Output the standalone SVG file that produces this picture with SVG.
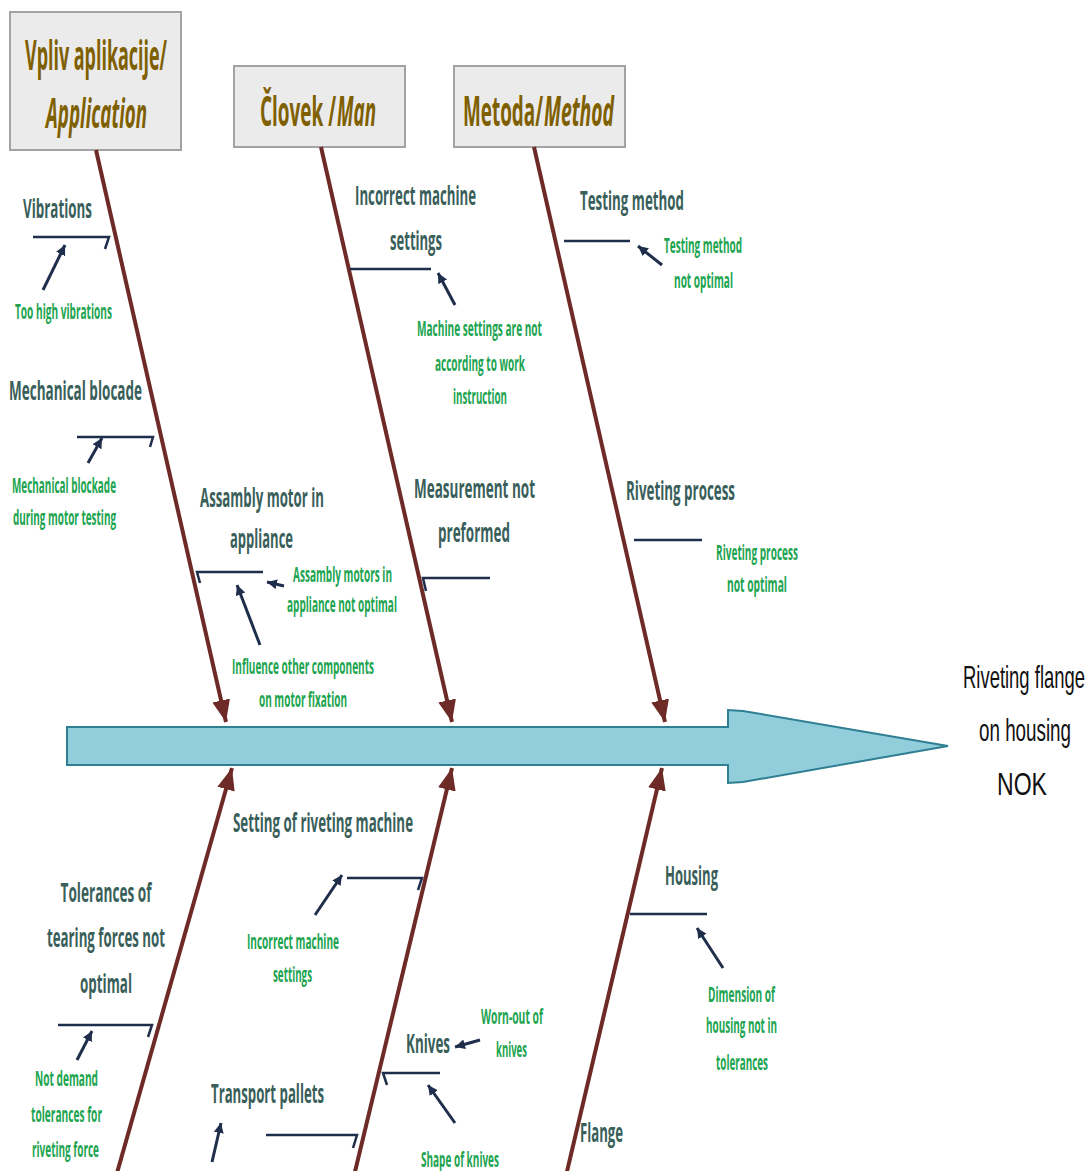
<svg xmlns="http://www.w3.org/2000/svg" width="1089" height="1171" viewBox="0 0 1089 1171">
  <style>
    .hdr { fill: #ebebeb; stroke: #a3a3a3; stroke-width: 2; }
    .hdr-t { font-family: "Open Sans", "Noto Sans", sans-serif; font-weight: 700; font-size: 41px; fill: #7f6000; }
    .mid { text-anchor: middle; }
    .it { font-style: italic; }
    .cat { font-family: "Open Sans", "Noto Sans", sans-serif; font-weight: 700; font-size: 27px; fill: #3a5f5b; text-anchor: middle; }
    .cause { font-family: "Open Sans", "Noto Sans", sans-serif; font-weight: 700; font-size: 22px; fill: #20a44f; text-anchor: middle; }
    .effect { font-family: "Liberation Sans", Arial, sans-serif; font-size: 32px; fill: #111111; text-anchor: middle; }
    .bone { stroke: #6e2a26; stroke-width: 4; fill: none; marker-end: url(#boneHead); }
    .branch { stroke: #1f2e4b; stroke-width: 2.5; fill: none; }
    .pointer { stroke: #1f2e4b; stroke-width: 3; fill: none; marker-end: url(#pointerHead); }
  </style>
  <defs>
    <marker id="boneHead" markerUnits="userSpaceOnUse" markerWidth="24" markerHeight="20" refX="22" refY="9" orient="auto">
      <path d="M0,0 L22,9 L0,18 z" fill="#6e2a26"/>
    </marker>
    <marker id="pointerHead" markerUnits="userSpaceOnUse" markerWidth="12" markerHeight="12" refX="10" refY="5" orient="auto">
      <path d="M0,0 L10,5 L0,10 z" fill="#1f2e4b"/>
    </marker>
  </defs>

  <rect width="1089" height="1171" fill="#ffffff"/>

  <!-- main spine arrow -->
  <g id="spine">
    <polygon points="67,727 728,727 728,710 743,711 948,746 743,782 728,783 728,765 67,765" fill="#92cddc" stroke="#2f7f92" stroke-width="2"/>
  </g>

  <!-- effect -->
  <g id="effect">
    <text class="effect" x="1024" y="688" textLength="122" lengthAdjust="spacingAndGlyphs">Riveting flange</text>
    <text class="effect" x="1025" y="741" textLength="92" lengthAdjust="spacingAndGlyphs">on housing</text>
    <text class="effect" x="1022" y="795" textLength="50" lengthAdjust="spacingAndGlyphs">NOK</text>
  </g>

  <!-- category headers -->
  <g id="hdr-application">
    <rect class="hdr" x="10" y="12" width="171" height="138"/>
    <text class="hdr-t mid" x="96" y="70" textLength="142" lengthAdjust="spacingAndGlyphs">Vpliv aplikacije/</text>
    <text class="hdr-t mid it" x="96.5" y="128" textLength="101" lengthAdjust="spacingAndGlyphs">Application</text>
  </g>
  <g id="hdr-man">
    <rect class="hdr" x="234" y="66" width="171" height="81"/>
    <text class="hdr-t" x="260" y="126" textLength="76" lengthAdjust="spacingAndGlyphs">Človek /</text>
    <text class="hdr-t it" x="337" y="126" textLength="39" lengthAdjust="spacingAndGlyphs">Man</text>
  </g>
  <g id="hdr-method">
    <rect class="hdr" x="454" y="66" width="171" height="81"/>
    <text class="hdr-t" x="463" y="126" textLength="80" lengthAdjust="spacingAndGlyphs">Metoda/</text>
    <text class="hdr-t it" x="544" y="126" textLength="70" lengthAdjust="spacingAndGlyphs">Method</text>
  </g>

  <!-- connectors: bones, branches and pointers -->
  <g id="connectors">
    <line class="bone" x1="96" y1="150" x2="226" y2="722"/>
    <line class="bone" x1="321" y1="147" x2="452" y2="722"/>
    <line class="bone" x1="534" y1="147" x2="665" y2="722"/>
    <line class="bone" x1="115" y1="1180" x2="232" y2="768"/>
    <line class="bone" x1="353" y1="1180" x2="452" y2="768"/>
    <line class="bone" x1="565" y1="1180" x2="662" y2="768"/>

    <!-- branches -->
    <polyline class="branch" points="33,237 109,237 105,249"/>
    <polyline class="branch" points="77,437 153,437 150,447"/>
    <polyline class="branch" points="263,572 197,572 200,583"/>
    <line class="branch" x1="350" y1="269" x2="431" y2="269"/>
    <polyline class="branch" points="490,578 423,578 426,591"/>
    <line class="branch" x1="564" y1="241" x2="630" y2="241"/>
    <line class="branch" x1="634" y1="540" x2="702" y2="540"/>
    <polyline class="branch" points="58,1025 152,1025 148,1037"/>
    <polyline class="branch" points="347,878 422,878 418,890"/>
    <polyline class="branch" points="440,1073 383,1073 387,1085"/>
    <polyline class="branch" points="266,1135 357,1135 353,1148"/>
    <line class="branch" x1="630" y1="914" x2="707" y2="914"/>

    <!-- pointers -->
    <line class="pointer" x1="43" y1="290" x2="65" y2="245"/>
    <line class="pointer" x1="88" y1="463" x2="102" y2="438"/>
    <line class="pointer" x1="260" y1="645" x2="237" y2="585"/>
    <line class="pointer" x1="284" y1="586" x2="267" y2="582"/>
    <line class="pointer" x1="455" y1="305" x2="438" y2="273"/>
    <line class="pointer" x1="662" y1="265" x2="638" y2="246"/>
    <line class="pointer" x1="77" y1="1060" x2="92" y2="1031"/>
    <line class="pointer" x1="315" y1="915" x2="342" y2="875"/>
    <line class="pointer" x1="480" y1="1040" x2="455" y2="1047"/>
    <line class="pointer" x1="455" y1="1123" x2="428" y2="1085"/>
    <line class="pointer" x1="212" y1="1162" x2="221" y2="1123"/>
    <line class="pointer" x1="723" y1="968" x2="697" y2="928"/>
  </g>

  <!-- Application causes -->
  <g id="vibrations">
    <text class="cat" x="57.5" y="218" textLength="69" lengthAdjust="spacingAndGlyphs">Vibrations</text>
    <text class="cause" x="63.5" y="319" textLength="97" lengthAdjust="spacingAndGlyphs">Too high vibrations</text>
  </g>
  <g id="mechanical-blocade">
    <text class="cat" x="75.5" y="400" textLength="133" lengthAdjust="spacingAndGlyphs">Mechanical blocade</text>
    <text class="cause" x="64" y="493" textLength="104" lengthAdjust="spacingAndGlyphs">Mechanical blockade</text>
    <text class="cause" x="64.5" y="525" textLength="103" lengthAdjust="spacingAndGlyphs">during motor testing</text>
  </g>
  <g id="assambly-motor">
    <text class="cat" x="262" y="507" textLength="124" lengthAdjust="spacingAndGlyphs">Assambly motor in</text>
    <text class="cat" x="261.5" y="548" textLength="63" lengthAdjust="spacingAndGlyphs">appliance</text>
    <text class="cause" x="342.5" y="582" textLength="99" lengthAdjust="spacingAndGlyphs">Assambly motors in</text>
    <text class="cause" x="342" y="612" textLength="110" lengthAdjust="spacingAndGlyphs">appliance not optimal</text>
    <text class="cause" x="303" y="674" textLength="142" lengthAdjust="spacingAndGlyphs">Influence other components</text>
    <text class="cause" x="303" y="707" textLength="88" lengthAdjust="spacingAndGlyphs">on motor fixation</text>
  </g>

  <!-- Man causes -->
  <g id="incorrect-settings">
    <text class="cat" x="415.5" y="205" textLength="121" lengthAdjust="spacingAndGlyphs">Incorrect machine</text>
    <text class="cat" x="416" y="250" textLength="52" lengthAdjust="spacingAndGlyphs">settings</text>
    <text class="cause" x="479.5" y="336" textLength="125" lengthAdjust="spacingAndGlyphs">Machine settings are not</text>
    <text class="cause" x="480" y="371" textLength="90" lengthAdjust="spacingAndGlyphs">according to work</text>
    <text class="cause" x="480" y="404" textLength="54" lengthAdjust="spacingAndGlyphs">instruction</text>
  </g>
  <g id="measurement">
    <text class="cat" x="474.5" y="498" textLength="121" lengthAdjust="spacingAndGlyphs">Measurement not</text>
    <text class="cat" x="474" y="542" textLength="72" lengthAdjust="spacingAndGlyphs">preformed</text>
  </g>

  <!-- Method causes -->
  <g id="testing-method">
    <text class="cat" x="632" y="210" textLength="104" lengthAdjust="spacingAndGlyphs">Testing method</text>
    <text class="cause" x="703" y="253" textLength="78" lengthAdjust="spacingAndGlyphs">Testing method</text>
    <text class="cause" x="703.5" y="288" textLength="59" lengthAdjust="spacingAndGlyphs">not optimal</text>
  </g>
  <g id="riveting-process">
    <text class="cat" x="680.5" y="500" textLength="109" lengthAdjust="spacingAndGlyphs">Riveting process</text>
    <text class="cause" x="757" y="560" textLength="82" lengthAdjust="spacingAndGlyphs">Riveting process</text>
    <text class="cause" x="757" y="592" textLength="60" lengthAdjust="spacingAndGlyphs">not optimal</text>
  </g>

  <!-- lower causes -->
  <g id="tolerances">
    <text class="cat" x="106" y="902" textLength="91" lengthAdjust="spacingAndGlyphs">Tolerances of</text>
    <text class="cat" x="106" y="947" textLength="118" lengthAdjust="spacingAndGlyphs">tearing forces not</text>
    <text class="cat" x="106" y="993" textLength="52" lengthAdjust="spacingAndGlyphs">optimal</text>
    <text class="cause" x="66.5" y="1086" textLength="63" lengthAdjust="spacingAndGlyphs">Not demand</text>
    <text class="cause" x="66.5" y="1122" textLength="71" lengthAdjust="spacingAndGlyphs">tolerances for</text>
    <text class="cause" x="65.5" y="1157" textLength="67" lengthAdjust="spacingAndGlyphs">riveting force</text>
  </g>
  <g id="setting-riveting">
    <text class="cat" x="323" y="832" textLength="180" lengthAdjust="spacingAndGlyphs">Setting of riveting machine</text>
    <text class="cause" x="293" y="949" textLength="92" lengthAdjust="spacingAndGlyphs">Incorrect machine</text>
    <text class="cause" x="292.5" y="982" textLength="39" lengthAdjust="spacingAndGlyphs">settings</text>
  </g>
  <g id="knives">
    <text class="cat" x="428" y="1053" textLength="44" lengthAdjust="spacingAndGlyphs">Knives</text>
    <text class="cause" x="512" y="1024" textLength="62" lengthAdjust="spacingAndGlyphs">Worn-out of</text>
    <text class="cause" x="511.5" y="1057" textLength="31" lengthAdjust="spacingAndGlyphs">knives</text>
    <text class="cause" x="460" y="1167" textLength="78" lengthAdjust="spacingAndGlyphs">Shape of knives</text>
  </g>
  <g id="transport-pallets">
    <text class="cat" x="267.5" y="1103" textLength="113" lengthAdjust="spacingAndGlyphs">Transport pallets</text>
  </g>
  <g id="housing">
    <text class="cat" x="691.5" y="885" textLength="53" lengthAdjust="spacingAndGlyphs">Housing</text>
    <text class="cause" x="741.5" y="1002" textLength="67" lengthAdjust="spacingAndGlyphs">Dimension of</text>
    <text class="cause" x="741.5" y="1033" textLength="71" lengthAdjust="spacingAndGlyphs">housing not in</text>
    <text class="cause" x="742" y="1070" textLength="52" lengthAdjust="spacingAndGlyphs">tolerances</text>
  </g>
  <g id="flange">
    <text class="cat" x="601.5" y="1142" textLength="43" lengthAdjust="spacingAndGlyphs">Flange</text>
  </g>
</svg>
